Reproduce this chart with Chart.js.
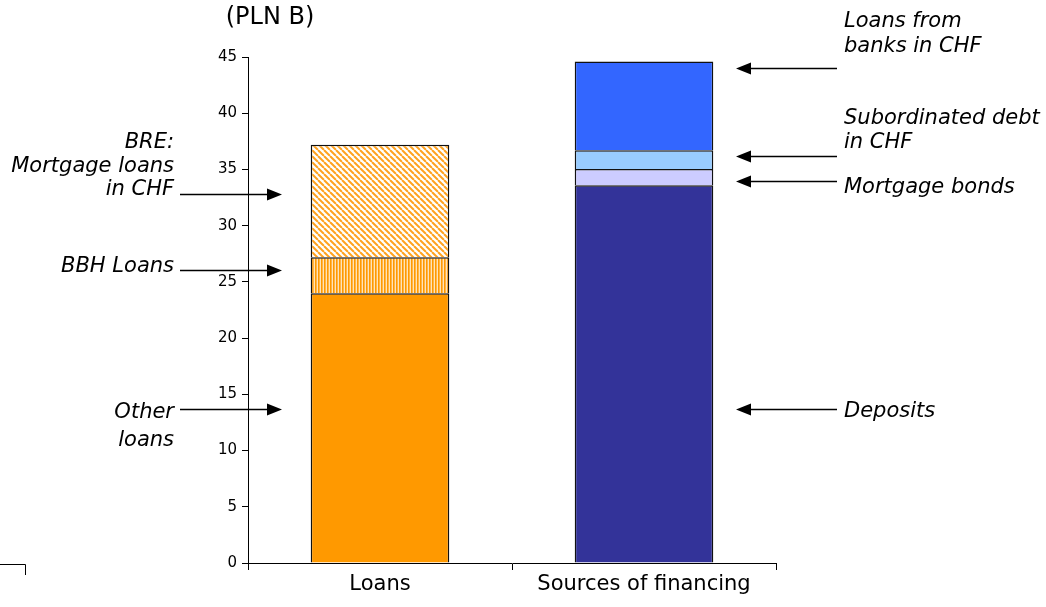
<!DOCTYPE html>
<html>
<head>
<meta charset="utf-8">
<script src="https://cdn.jsdelivr.net/npm/chart.js@4/dist/chart.umd.min.js"></script>
<style>
  html, body { margin: 0; padding: 0; background: #fff; }
  #c { display: block; }
</style>
</head>
<body>
<canvas id="c" width="1046" height="607"></canvas>
<script>
// Categories and stacked segment values (PLN B)
const categories = ['Loans', 'Sources of financing'];

const otherLoans       = [24.0, null];
const bbhLoans         = [3.2, null];
const breMortgageCHF   = [10.0, null];

const deposits         = [null, 33.6];
const mortgageBonds    = [null, 1.45];
const subordinatedCHF  = [null, 1.65];
const bankLoansCHF     = [null, 7.9];

const yTicks = [0, 5, 10, 15, 20, 25, 30, 35, 40, 45];

const FONT = '"DejaVu Sans", Verdana, sans-serif';

// Fill patterns for the hatched loan segments
function diagonalPattern() {
  const s = 6;
  const c = document.createElement('canvas');
  c.width = s; c.height = s;
  const g = c.getContext('2d');
  g.fillStyle = '#ffffff';
  g.fillRect(0, 0, s, s);
  g.strokeStyle = '#FFA21F';
  g.lineWidth = 2;
  for (let k = -1; k <= 1; k++) {
    g.beginPath();
    g.moveTo(k * s, 0);
    g.lineTo(k * s + s, s);
    g.stroke();
  }
  return g.createPattern(c, 'repeat');
}
function verticalPattern() {
  const c = document.createElement('canvas');
  c.width = 3; c.height = 1;
  const g = c.getContext('2d');
  g.fillStyle = '#FF9900'; g.fillRect(0, 0, 1, 1);
  g.fillStyle = '#FFB547'; g.fillRect(1, 0, 1, 1);
  g.fillStyle = '#FFE3B8'; g.fillRect(2, 0, 1, 1);
  return g.createPattern(c, 'repeat');
}

const ctx = document.getElementById('c').getContext('2d');

const seg = (label, data, color) => ({
  label, data, backgroundColor: color, borderColor: '#111', borderWidth: 1.5,
  stack: 'total', barPercentage: 0.525, categoryPercentage: 1
});

// Callout labels with arrows (value = height the arrow points at)
const callouts = [
  { side: 'left',  value: 32.8, lines: ['BRE:', 'Mortgage loans', 'in CHF'], offsets: [-52, -28, -5] },
  { side: 'left',  value: 26.1, lines: ['BBH Loans'], offsets: [-4] },
  { side: 'left',  value: 13.7, lines: ['Other', 'loans'], offsets: [3, 31] },
  { side: 'right', value: 44.0, lines: ['Loans from', 'banks in CHF'], offsets: [-47, -22] },
  { side: 'right', value: 36.2, lines: ['Subordinated debt', 'in CHF'], offsets: [-38, -14] },
  { side: 'right', value: 34.0, lines: ['Mortgage bonds'], offsets: [6] },
  { side: 'right', value: 13.7, lines: ['Deposits'], offsets: [2] }
];

const calloutPlugin = {
  id: 'callouts',
  afterDraw(chart) {
    const g = chart.ctx;
    const y = chart.scales.y;
    g.save();
    // unit caption
    g.fillStyle = '#000';
    g.font = '24px ' + FONT;
    g.textAlign = 'center';
    g.textBaseline = 'middle';
    g.fillText('(PLN B)', 270, 18);

    g.font = 'italic 21px ' + FONT;
    g.strokeStyle = '#000';
    g.lineWidth = 1.5;
    callouts.forEach(c => {
      const py = Math.round(y.getPixelForValue(c.value)) + 0.5;
      let tail, tip;
      if (c.side === 'left') { tail = 180; tip = 282; g.textAlign = 'right'; }
      else { tail = 837; tip = 736; g.textAlign = 'left'; }
      const dir = Math.sign(tip - tail);
      const headLen = 15, headHalf = 6;
      g.beginPath();
      g.moveTo(tail, py);
      g.lineTo(tip - dir * headLen, py);
      g.stroke();
      g.beginPath();
      g.moveTo(tip, py);
      g.lineTo(tip - dir * headLen, py - headHalf);
      g.lineTo(tip - dir * headLen, py + headHalf);
      g.closePath();
      g.fill();
      const tx = c.side === 'left' ? 174 : 844;
      c.lines.forEach((t, i) => g.fillText(t, tx, py + c.offsets[i]));
    });

    // small corner bracket at lower left
    g.lineWidth = 1;
    g.beginPath();
    g.moveTo(0, 564.5);
    g.lineTo(25.5, 564.5);
    g.lineTo(25.5, 575);
    g.stroke();
    g.restore();
  }
};

new Chart(ctx, {
  type: 'bar',
  data: {
    labels: categories,
    datasets: [
      seg('Other loans', otherLoans, '#FF9900'),
      seg('BBH Loans', bbhLoans, verticalPattern()),
      seg('BRE: Mortgage loans in CHF', breMortgageCHF, diagonalPattern()),
      seg('Deposits', deposits, '#333399'),
      seg('Mortgage bonds', mortgageBonds, '#CCCCFF'),
      seg('Subordinated debt in CHF', subordinatedCHF, '#99CCFF'),
      seg('Loans from banks in CHF', bankLoansCHF, '#3366FF')
    ]
  },
  options: {
    responsive: false,
    animation: false,
    events: [],
    layout: { padding: { top: 57, right: 270, left: 0, bottom: 0 } },
    plugins: { legend: { display: false }, tooltip: { enabled: false }, title: { display: false } },
    scales: {
      x: {
        stacked: true,
        afterFit(s) { s.height = 44; },
        grid: { display: true, drawOnChartArea: false, drawTicks: true, tickLength: 7, offset: true, color: '#000', lineWidth: 1 },
        border: { display: true, color: '#000', width: 1 },
        ticks: { color: '#000', padding: 2, font: { family: FONT, size: 21 } }
      },
      y: {
        stacked: true,
        min: 0, max: 45,
        afterFit(s) { s.width = 248; },
        afterBuildTicks(s) { s.ticks = yTicks.map(v => ({ value: v })); },
        grid: { display: true, drawOnChartArea: false, drawTicks: true, tickLength: 6, color: '#000', lineWidth: 1 },
        border: { display: true, color: '#000', width: 1 },
        ticks: { color: '#000', padding: 5, font: { family: FONT, size: 15 } }
      }
    }
  },
  plugins: [calloutPlugin]
});
</script>
</body>
</html>
